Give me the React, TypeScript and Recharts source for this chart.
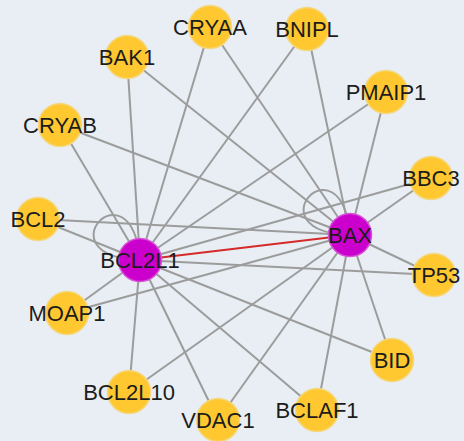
import React from 'react';
import { ScatterChart, Scatter, XAxis, YAxis, ReferenceLine } from 'recharts';

// node layout (pixel space of the 464x441 canvas)
const nodeNames = ['CRYAA', 'BNIPL', 'BAK1', 'PMAIP1', 'CRYAB', 'BBC3', 'BCL2', 'BAX', 'BCL2L1', 'TP53', 'MOAP1', 'BID', 'BCL2L10', 'BCLAF1', 'VDAC1'];
const nodeX = [210, 307, 127, 386, 60, 431, 38, 350, 140, 434, 67, 392, 129, 317, 218];
const nodeY = [27, 29, 57, 92, 125, 178, 219, 235, 260, 275, 313, 360, 392, 410, 420];

const hubNames = ['BCL2L1', 'BAX'];
const partnerNames = ['CRYAA', 'BNIPL', 'BAK1', 'PMAIP1', 'CRYAB', 'BBC3', 'BCL2', 'TP53', 'MOAP1', 'BID', 'BCL2L10', 'BCLAF1', 'VDAC1'];
const highlightEdge = ['BCL2L1', 'BAX'];

const nodes = nodeNames.map((name, i) => ({ name, x: nodeX[i], y: nodeY[i], hub: hubNames.includes(name) }));
const pos = (name: string) => nodes.find(n => n.name === name)!;

const edges = hubNames.flatMap(h => partnerNames.map(p => [h, p]));

const YELLOW = '#FFC830';
const PURPLE = '#CC00CC';
const EDGE = '#9c9c9c';

const LoopShape = (props: any) => {
  const { cx, cy } = props;
  const d = 100;
  const a1 = (-95 * Math.PI) / 180;
  const a2 = (-178 * Math.PI) / 180;
  const path = `M${cx},${cy} C${cx + d * Math.cos(a1)},${cy + d * Math.sin(a1)} ${cx + d * Math.cos(a2)},${cy + d * Math.sin(a2)} ${cx},${cy}`;
  return <path d={path} fill="none" stroke={EDGE} strokeWidth={2} />;
};

const NodeShape = (props: any) => {
  const { cx, cy, payload } = props;
  return (
    <g>
      <circle cx={cx} cy={cy} r={21.5} fill={payload.hub ? PURPLE : YELLOW} stroke={payload.hub ? '#d84fd8' : '#f4d77e'} strokeWidth={1.5} />
      <text
        x={cx}
        y={cy}
        textAnchor="middle"
        dominantBaseline="central"
        fontFamily="'Liberation Sans', Arial, sans-serif"
        fontSize={22}
        fill="#1c1c1c"
      >
        {payload.name}
      </text>
    </g>
  );
};

export default function App() {
  return (
    <div style={{ position: 'absolute', left: 0, top: 0, width: 464, height: 441, background: '#E8EEF4' }}>
      <ScatterChart width={464} height={441} margin={{ top: 0, right: 0, bottom: 0, left: 0 }}>
        <XAxis type="number" dataKey="x" domain={[0, 464]} hide />
        <YAxis type="number" dataKey="y" domain={[0, 441]} reversed hide />
        {edges.map(([a, b]) => (
          <ReferenceLine
            key={a + b}
            segment={[{ x: pos(a).x, y: pos(a).y }, { x: pos(b).x, y: pos(b).y }]}
            stroke={EDGE}
            strokeWidth={2}
            ifOverflow="visible"
          />
        ))}
        <ReferenceLine
          segment={[
            { x: pos(highlightEdge[0]).x, y: pos(highlightEdge[0]).y },
            { x: pos(highlightEdge[1]).x, y: pos(highlightEdge[1]).y },
          ]}
          stroke="#d42a2a"
          strokeWidth={2}
          ifOverflow="visible"
        />
        <Scatter data={nodes.filter(n => n.hub)} shape={LoopShape} isAnimationActive={false} />
        <Scatter data={nodes} shape={NodeShape} isAnimationActive={false} />
      </ScatterChart>
    </div>
  );
}
